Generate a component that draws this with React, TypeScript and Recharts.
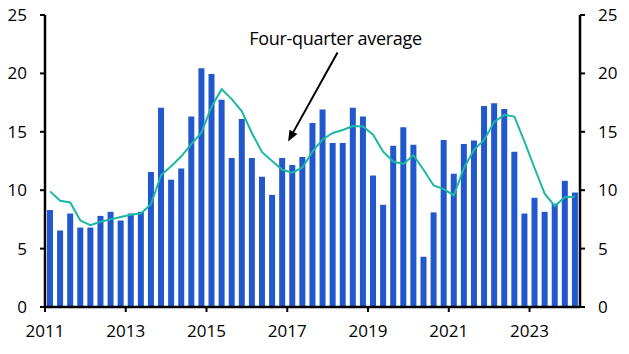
import React from 'react'
import { ComposedChart, Bar, Line, XAxis, YAxis, ReferenceLine } from 'recharts'

const firstYear = 2011
const yearTicks = [2011, 2013, 2015, 2017, 2019, 2021, 2023]
const valueTicks = [0, 5, 10, 15, 20, 25]

// quarterly values, 2011 Q1 .. 2024 Q1
const quarterly = [
  8.3, 6.55, 8.0, 6.8, 6.8, 7.8, 8.15, 7.4, 8.0, 8.15,
  11.55, 17.05, 10.9, 11.85, 16.3, 20.45, 19.95, 17.75, 12.75, 16.1,
  12.75, 11.15, 9.6, 12.75, 12.15, 12.85, 15.75, 16.9, 14.05, 14.05,
  17.05, 16.3, 11.25, 8.75, 13.8, 15.4, 13.9, 4.3, 8.1, 14.3,
  11.4, 13.95, 14.25, 17.2, 17.45, 16.95, 13.3, 8.0, 9.35, 8.15,
  8.85, 10.8, 9.8,
]

const fourQuarterAvg = [
  9.9, 9.1, 8.95, 7.4, 7.0, 7.3, 7.5, 7.7, 7.9, 8.0,
  8.8, 11.3, 12.05, 12.9, 13.95, 14.95, 17.15, 18.65, 17.8, 16.75,
  14.9, 13.25, 12.5, 11.75, 11.5, 11.95, 13.3, 14.35, 14.9, 15.15,
  15.5, 15.45, 14.75, 13.3, 12.45, 12.25, 13.0, 11.75, 10.4, 10.1,
  9.55, 11.9, 13.45, 14.3, 15.85, 16.45, 16.3, 14.15, 11.9, 9.7,
  8.65, 9.4, 9.45,
]

const annotation = 'Four-quarter average'

const BAR = '#2158cd'
const AVG = '#1bb8a4'
const FONT = '"Open Sans", sans-serif'

const data = quarterly.map((v, i) => ({ x: i + 0.5, value: v, avg: fourQuarterAvg[i] }))

function Arrow(props: any) {
  const { x1, y1, x2, y2 } = props
  if (x1 == null) return null
  const ang = Math.atan2(y2 - y1, x2 - x1)
  const len = 11
  const w = 4.5
  const bx = x2 - len * Math.cos(ang)
  const by = y2 - len * Math.sin(ang)
  const px = -Math.sin(ang) * w
  const py = Math.cos(ang) * w
  return (
    <g>
      <line x1={x1} y1={y1} x2={bx} y2={by} stroke="#000" strokeWidth={2} />
      <polygon points={`${x2},${y2} ${bx + px},${by + py} ${bx - px},${by - py}`} fill="#000" />
      <text
        x={x1 - 2}
        y={y1 - 8}
        textAnchor="middle"
        fontSize={18}
        letterSpacing={-0.3}
        fontFamily={FONT}
        fill="#000"
      >
        {annotation}
      </text>
    </g>
  )
}

const tickStyle = { fontSize: 17, fill: '#000', fontFamily: FONT }

export default function App() {
  return (
    <div style={{ position: 'absolute', left: 0, top: 0, width: 629, height: 354, background: '#fff' }}>
      <ComposedChart width={629} height={354} data={data} margin={{ top: 15, right: 0, bottom: 0, left: 0 }}>
        <XAxis
          type="number"
          dataKey="x"
          domain={[0, 53]}
          ticks={yearTicks.map(y => (y - firstYear) * 4)}
          tickFormatter={(t: number) => String(firstYear + t / 4)}
          allowDataOverflow
          height={47}
          tick={tickStyle}
          tickSize={5}
          tickMargin={13}
          axisLine={{ stroke: '#000', strokeWidth: 2.5 }}
          tickLine={{ stroke: '#000', strokeWidth: 2 }}
        />
        <YAxis
          yAxisId="left"
          domain={[0, 25]}
          allowDataOverflow
          ticks={valueTicks}
          width={45}
          tick={tickStyle}
          tickSize={5}
          tickMargin={13}
          axisLine={{ stroke: '#000', strokeWidth: 2.5 }}
          tickLine={{ stroke: '#000', strokeWidth: 2 }}
        />
        <YAxis
          yAxisId="right"
          orientation="right"
          domain={[0, 25]}
          allowDataOverflow
          ticks={valueTicks}
          width={49}
          tick={{ ...tickStyle, textAnchor: 'start' }}
          tickSize={5}
          tickMargin={13}
          axisLine={{ stroke: '#000', strokeWidth: 2.5 }}
          tickLine={{ stroke: '#000', strokeWidth: 2 }}
        />
        <Bar yAxisId="left" dataKey="value" fill={BAR} barSize={6} isAnimationActive={false} />
        <Line
          yAxisId="left"
          type="linear"
          dataKey="avg"
          stroke={AVG}
          strokeWidth={2}
          dot={false}
          activeDot={false}
          isAnimationActive={false}
        />
        {/* invisible series so the right-hand axis is drawn */}
        <Line
          yAxisId="right"
          dataKey="avg"
          stroke="none"
          dot={false}
          activeDot={false}
          legendType="none"
          isAnimationActive={false}
        />
        <ReferenceLine
          yAxisId="left"
          segment={[{ x: 28.98, y: 21.78 }, { x: 24.08, y: 14.17 }]}
          shape={<Arrow />}
        />
      </ComposedChart>
    </div>
  )
}
